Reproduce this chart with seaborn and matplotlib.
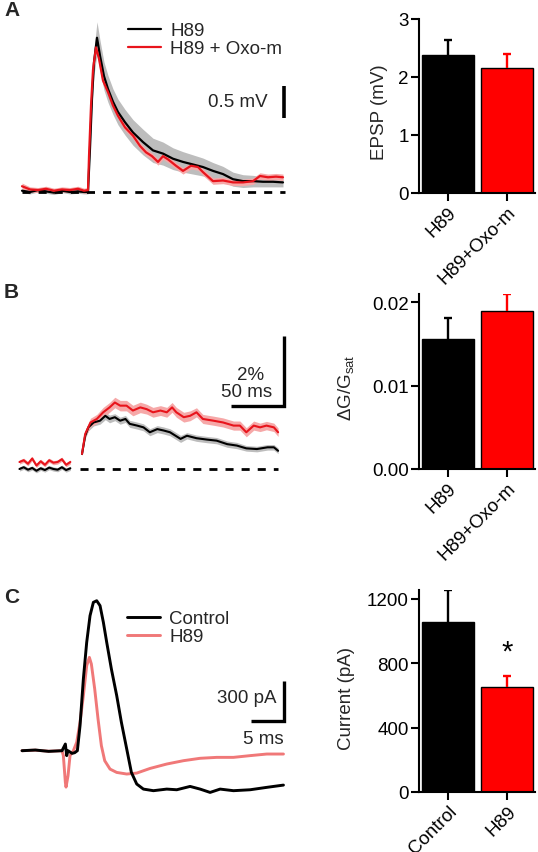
import numpy as np
import pandas as pd
import matplotlib
matplotlib.use("Agg")
import matplotlib.pyplot as plt
import seaborn as sns

# ---------------- DATA ----------------
# Panel A: averaged EPSP traces (ms, mV)
A_t_black = [-66, -58, -50, -42, -34, -26, -18, -10, -4, 0, 2, 4, 6, 9, 12, 16, 20, 25, 30, 37,
             45, 55, 65, 75, 85, 95, 105, 115, 125, 135, 145, 155, 165, 175, 185, 195]
A_v_black = [0.02, 0.00, 0.03, 0.01, -0.01, 0.02, 0.00, 0.01, 0.00, 0.0, 0.68, 1.46, 2.03, 2.41, 2.13, 1.81, 1.61, 1.41, 1.25, 1.09,
             0.93, 0.78, 0.65, 0.60, 0.52, 0.47, 0.43, 0.39, 0.33, 0.28, 0.20, 0.17, 0.17, 0.16, 0.16, 0.15]
A_sem_black = [0.03, 0.03, 0.03, 0.03, 0.03, 0.03, 0.03, 0.03, 0.03, 0.03, 0.05, 0.12, 0.20, 0.25, 0.24, 0.22, 0.21, 0.20, 0.20, 0.20,
               0.20, 0.20, 0.19, 0.18, 0.17, 0.16, 0.15, 0.14, 0.13, 0.12, 0.11, 0.10, 0.09, 0.08, 0.08, 0.07]
A_t_red = [-66, -58, -50, -42, -34, -26, -18, -10, -4, 0, 1, 3, 5, 8, 11, 15, 20, 25, 30, 37,
           45, 52, 58, 64, 70, 75, 80, 88, 95, 103, 110, 115, 125, 135, 145, 155, 165, 172, 180, 188, 195]
A_v_red = [0.09, 0.04, 0.03, 0.05, 0.02, 0.04, 0.03, 0.05, 0.02, 0.03, 0.56, 1.35, 1.91, 2.26, 2.08, 1.74, 1.56, 1.35, 1.19, 1.01,
           0.88, 0.72, 0.62, 0.56, 0.47, 0.56, 0.51, 0.41, 0.33, 0.41, 0.39, 0.31, 0.17, 0.18, 0.15, 0.15, 0.17, 0.25, 0.23, 0.24, 0.23]
A_sem_red = [0.05, 0.04, 0.04, 0.04, 0.04, 0.04, 0.04, 0.04, 0.04, 0.04, 0.04, 0.05, 0.05, 0.05, 0.05, 0.05, 0.05, 0.05, 0.05, 0.05,
             0.05, 0.05, 0.05, 0.05, 0.05, 0.05, 0.05, 0.05, 0.05, 0.05, 0.05, 0.05, 0.05, 0.05, 0.05, 0.05, 0.05, 0.05, 0.05, 0.05, 0.05]
A_labels = ["H89", "H89 + Oxo-m"]

# Panel B: dG/Gsat traces (ms, %)
B_t_pre = [-59, -55, -51, -47, -43, -39, -35, -31, -27, -23, -19, -15, -11]
B_pre_black = [0.00, 0.05, -0.02, 0.03, -0.05, 0.02, -0.03, 0.04, 0.00, -0.02, 0.05, -0.03, 0.02]
B_pre_red = [0.20, 0.25, 0.15, 0.30, 0.10, 0.22, 0.12, 0.25, 0.18, 0.20, 0.28, 0.12, 0.20]
B_pre_sem = [0.06, 0.06, 0.06, 0.06, 0.06, 0.06, 0.06, 0.06, 0.06, 0.06, 0.06, 0.06, 0.06]
B_t_black = [0, 3, 6, 11, 17, 22, 26, 31, 36, 41, 45, 52, 58, 64, 71, 77, 83, 93, 99, 108,
             118, 127, 137, 146, 155, 165, 175, 181, 185]
B_black = [0.43, 0.95, 1.19, 1.33, 1.38, 1.52, 1.43, 1.48, 1.38, 1.43, 1.29, 1.24, 1.19, 1.05, 1.14, 1.10, 1.05, 0.86, 0.95, 0.88,
           0.84, 0.81, 0.71, 0.67, 0.59, 0.57, 0.62, 0.62, 0.52]
B_sem_black = [0.05, 0.08, 0.10, 0.10, 0.10, 0.11, 0.11, 0.10, 0.10, 0.10, 0.10, 0.10, 0.10, 0.10, 0.10, 0.10, 0.10, 0.10, 0.09, 0.09,
               0.09, 0.09, 0.09, 0.09, 0.08, 0.08, 0.08, 0.08, 0.08]
B_t_red = [0, 3, 8, 14, 20, 26, 31, 36, 42, 48, 55, 61, 67, 74, 80, 85, 89, 96, 102, 108,
           114, 124, 133, 143, 149, 155, 162, 168, 174, 181, 185]
B_red = [0.43, 1.00, 1.33, 1.43, 1.62, 1.76, 1.90, 1.81, 1.81, 1.67, 1.76, 1.71, 1.62, 1.67, 1.62, 1.76, 1.62, 1.48, 1.52, 1.62,
         1.43, 1.38, 1.33, 1.24, 1.24, 1.05, 1.24, 1.19, 1.24, 1.19, 1.05]
B_sem_red = [0.05, 0.10, 0.12, 0.13, 0.14, 0.14, 0.15, 0.15, 0.15, 0.15, 0.15, 0.14, 0.14, 0.14, 0.14, 0.14, 0.14, 0.14, 0.14, 0.13,
             0.13, 0.13, 0.13, 0.13, 0.13, 0.13, 0.13, 0.12, 0.12, 0.12, 0.12]

# Panel C: current traces (ms, pA)
C_t_black = [0, 2, 4, 6.0, 6.5, 6.7, 6.9, 7.5, 7.9, 8.3, 8.7, 9.2, 9.7, 10.2, 10.7, 11.2, 11.7, 12.2, 12.7, 13.4,
             14.2, 14.9, 15.7, 16.4, 17.2, 18.2, 19.7, 21.7, 23.2, 25.2, 26.7, 28.2, 29.7, 31.7, 34.2, 36.7, 39.2]
C_i_black = [0, 5, -5, 0, 50, -37, 0, -20, -15, 0, 188, 538, 813, 1013, 1113, 1125, 1088, 963, 813, 613,
             413, 213, 13, -163, -250, -288, -300, -288, -293, -268, -288, -313, -288, -300, -293, -275, -258]
C_t_red = [0, 2, 4, 6.0, 6.2, 6.5, 6.6, 6.9, 7.2, 7.7, 8.2, 8.7, 9.2, 9.7, 10.1, 10.4, 10.9, 11.4, 11.9, 12.4,
           13.2, 14.2, 15.7, 17.2, 19.2, 21.7, 24.2, 26.7, 29.2, 31.7, 34.2, 36.7, 39.2]
C_i_red = [0, 4, -4, 0, -37, -237, -273, -188, -37, 0, 63, 213, 413, 638, 700, 650, 463, 238, 38, -75,
           -138, -163, -175, -168, -133, -100, -75, -57, -50, -50, -37, -25, -25]
C_labels = ["Control", "H89"]

# Bar charts
A_bar_cats = ["H89", "H89+Oxo-m"]
A_bar_mean = [2.38, 2.15]
A_bar_sem = [0.25, 0.24]
B_bar_cats = ["H89", "H89+Oxo-m"]
B_bar_mean = [0.0156, 0.0190]
B_bar_sem = [0.0025, 0.0020]
C_bar_cats = ["Control", "H89"]
C_bar_mean = [1055, 649]
C_bar_sem = [200, 72]

# scale bars
A_scale_mV = 0.5
B_scale_pct, B_scale_ms = 2, 50
C_scale_pA, C_scale_ms = 300, 5

# ---------------- STYLE ----------------
sns.set_style("ticks")
plt.rcParams["font.family"] = ["Liberation Sans", "DejaVu Sans"]
plt.rcParams["mathtext.default"] = "regular"
FS = 13.5
BLACK = "#000000"
RED_TR = "#E8141C"
RED_BAR = "#FF0000"
PINK_C = "#F07878"
GRAY_BAND = "#BDBDBD"
PINK_BAND = "#F6A8A8"

W, H = 538, 853
fig = plt.figure(figsize=(W / 100, H / 100), dpi=100)


def px_axes(l, t, r, b):
    return fig.add_axes([l / W, 1 - b / H, (r - l) / W, (b - t) / H])


def trace_axes(box, x0, y0, sx, sy):
    l, t, r, b = box
    ax = px_axes(*box)
    ax.set_xlim((l - x0) / sx, (r - x0) / sx)
    ax.set_ylim((y0 - b) / sy, (y0 - t) / sy)
    ax.set_axis_off()
    return ax


def band(ax, t, v, s, color):
    v = np.asarray(v, float)
    s = np.asarray(s, float)
    ax.fill_between(t, v - s, v + s, color=color, lw=0, zorder=1)


def line(ax, t, v, color, lw, label=None):
    sns.lineplot(x=t, y=v, color=color, lw=lw, ax=ax, label=label, zorder=3,
                 estimator=None, sort=False)


# ---------- Panel A trace ----------
axA = trace_axes((15, 10, 292, 200), 88, 193, 1.0, 64)
band(axA, A_t_black, A_v_black, A_sem_black, GRAY_BAND)
band(axA, A_t_red, A_v_red, A_sem_red, PINK_BAND)
line(axA, A_t_black, A_v_black, BLACK, 1.6, A_labels[0])
line(axA, A_t_red, A_v_red, RED_TR, 1.6, A_labels[1])
axA.hlines(0, A_t_black[0], A_t_black[-1] + 2, color=BLACK, lw=2.0,
           linestyles=(0, (2.9, 2.9)), zorder=2)
axA.plot([196, 196], [1.16, 1.16 + A_scale_mV], color=BLACK, lw=2.6, solid_capstyle="butt")
axA.text(180, 1.41, f"{A_scale_mV} mV", ha="right", va="center", fontsize=FS)
axA.legend(loc="upper left", bbox_to_anchor=(128 / W, 1 - 23 / H), bbox_transform=fig.transFigure,
           frameon=False, fontsize=FS, handlelength=1.76, handletextpad=0.5, labelspacing=0.05,
           borderpad=0, borderaxespad=0)

# ---------- Panel B trace ----------
axB = trace_axes((12, 330, 292, 478), 82, 470, 1.06, 35)
band(axB, B_t_pre, B_pre_black, B_pre_sem, GRAY_BAND)
band(axB, B_t_pre, B_pre_red, B_pre_sem, PINK_BAND)
band(axB, B_t_black, B_black, B_sem_black, GRAY_BAND)
band(axB, B_t_red, B_red, B_sem_red, PINK_BAND)
line(axB, B_t_pre, B_pre_red, RED_TR, 1.5)
line(axB, B_t_pre, B_pre_black, BLACK, 1.5)
line(axB, B_t_black, B_black, BLACK, 1.5)
line(axB, B_t_red, B_red, RED_TR, 1.5)
axB.hlines(0, B_t_black[0] - 2, B_t_black[-1], color=BLACK, lw=2.0,
           linestyles=(0, (2.9, 2.9)), zorder=2)
cx, cy = 190.6, 1.81
axB.plot([cx - B_scale_ms, cx, cx], [cy, cy, cy + B_scale_pct], color=BLACK, lw=2.4,
         solid_joinstyle="miter", solid_capstyle="butt")
axB.text(172, 2.70, f"{B_scale_pct}%", ha="right", va="center", fontsize=FS)
axB.text(179, 2.22, f"{B_scale_ms} ms", ha="right", va="center", fontsize=FS)
if axB.get_legend():
    axB.get_legend().remove()

# ---------- Panel C trace ----------
axC = trace_axes((12, 590, 292, 800), 22, 751.7, 6.67, 0.1333)
line(axC, C_t_red, C_i_red, PINK_C, 2.1, C_labels[1])
line(axC, C_t_black, C_i_black, BLACK, 2.1, C_labels[0])
cx, cy = 39.35, 225
axC.plot([cx - C_scale_ms, cx, cx], [cy, cy, cy + C_scale_pA], color=BLACK, lw=2.4,
         solid_joinstyle="miter", solid_capstyle="butt")
axC.text(38.2, 400, f"{C_scale_pA} pA", ha="right", va="center", fontsize=FS)
axC.text(39.2, 88, f"{C_scale_ms} ms", ha="right", va="center", fontsize=FS)
hC, lC = axC.get_legend_handles_labels()
order = [lC.index(C_labels[0]), lC.index(C_labels[1])]
axC.legend([hC[i] for i in order], [lC[i] for i in order], loc="upper left",
           bbox_to_anchor=(127 / W, 1 - 611 / H), bbox_transform=fig.transFigure,
           frameon=False, fontsize=FS, handlelength=1.76, handletextpad=0.5, labelspacing=0.05,
           borderpad=0, borderaxespad=0)


# ---------- Bar charts ----------
def bar_axes(box, cats, means, sems, colors, ylim, yticks, fmt, ylabel, label_x):
    ax = px_axes(*box)
    df = pd.DataFrame({"cond": cats, "val": means})
    sns.barplot(data=df, x="cond", y="val", hue="cond", palette=colors, legend=False,
                saturation=1, width=0.885, edgecolor=colors, linewidth=1.0, ax=ax, errorbar=None)
    cap = 0.07
    for i, (m, s, c) in enumerate(zip(means, sems, colors)):
        ax.vlines(i, m, m + s, color=c, lw=1.7, zorder=4)
        ax.hlines(m + s, i - cap, i + cap, color=c, lw=1.7, zorder=4)
    ax.set_xlim(-0.49, 1.47)
    ax.set_ylim(*ylim)
    ax.set_yticks(yticks)
    ax.set_yticklabels([fmt.format(v) for v in yticks])
    ax.set_xticks([0, 1])
    ax.set_xticklabels(cats, rotation=45, ha="right", va="top", rotation_mode="anchor")
    ax.set_xlabel("")
    ax.set_ylabel(ylabel, fontsize=FS)
    ax.yaxis.set_label_coords(label_x, 0.47)
    sns.despine(ax=ax)
    for sp in ("left", "bottom"):
        ax.spines[sp].set_linewidth(1.5)
        ax.spines[sp].set_color(BLACK)
    ax.tick_params(axis="both", length=5.5, width=1.5, color=BLACK, labelsize=FS,
                   labelcolor=BLACK, pad=2)
    return ax


bA = bar_axes((419, 20, 535, 194), A_bar_cats, A_bar_mean, A_bar_sem, [BLACK, RED_BAR],
              (0, 3), [0, 1, 2, 3], "{:g}", "EPSP (mV)", -0.27)
bB = bar_axes((419, 295, 535, 470), B_bar_cats, B_bar_mean, B_bar_sem, [BLACK, RED_BAR],
              (0, 0.021), [0, 0.01, 0.02], "{:.2f}", "ΔG/G$_{sat}$", -0.54)
bC = bar_axes((419, 591, 535, 793), C_bar_cats, C_bar_mean, C_bar_sem, [BLACK, RED_BAR],
              (0, 1253), [0, 400, 800, 1200], "{:g}", "Current (pA)", -0.55)
bC.text(1, 824, "*", ha="center", va="baseline", fontsize=21, color=BLACK)

# panel letters
for letter, ytop in (("A", 1), ("B", 283), ("C", 588)):
    fig.text(4 / W, 1 - ytop / H, letter, ha="left", va="top", fontsize=15, fontweight="bold")

fig.savefig("out.png", dpi=100)
